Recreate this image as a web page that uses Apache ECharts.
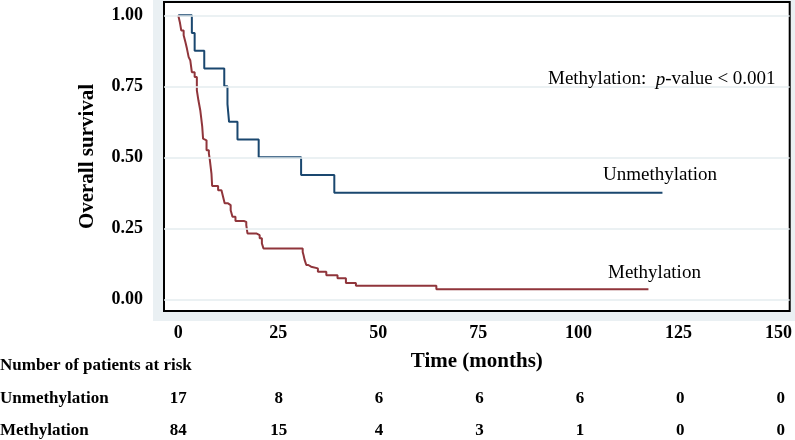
<!DOCTYPE html>
<html>
<head>
<meta charset="utf-8">
<script src="https://cdn.jsdelivr.net/npm/echarts@6/dist/echarts.min.js"></script>
<style>html,body{margin:0;padding:0;background:#fff;}#c{width:795px;height:440px;}</style>
</head>
<body>
<div id="c"></div>
<script>
// ---- data ----
var xTicks = [0, 25, 50, 75, 100, 125, 150];
var yTicks = [0, 0.25, 0.5, 0.75, 1];
var yTickLabels = ['0.00', '0.25', '0.50', '0.75', '1.00'];

var unmethTime = [0, 3.4, 4.1, 6.5, 11.5, 12.3, 12.7, 14.8, 20.1, 30.7, 39.0, 121.0];
var unmethSurv = [1.0, 0.9375, 0.875, 0.8125, 0.75, 0.6875, 0.625, 0.5625, 0.5, 0.4375, 0.375, 0.375];

var methTime = [0, 0.4, 0.75, 1.35, 1.8, 2.17, 2.6, 3.0, 3.4, 4.1, 4.65, 5.05, 5.5, 5.75, 6.0, 6.2, 6.65, 7.07, 7.65, 7.9,
  8.3, 8.47, 9.96, 10.8, 11.2, 11.6, 12.45, 13.1, 13.55, 14.3, 16.4, 17.0, 17.3, 19.5, 20.35, 20.9, 21.3, 31.1, 31.3, 31.6,
  32.0, 32.5, 33.2, 34.9, 37.0, 39.8, 41.9, 44.4, 64.5, 117.5];
var methSurv = [1.0, 0.976, 0.947, 0.930, 0.905, 0.883, 0.853, 0.842, 0.80, 0.783, 0.736, 0.70, 0.666, 0.637, 0.607, 0.566, 0.560, 0.525, 0.514, 0.49,
  0.443, 0.399, 0.384, 0.378, 0.361, 0.338, 0.332, 0.314, 0.291, 0.276, 0.273, 0.261, 0.232, 0.226, 0.215, 0.197, 0.179, 0.167, 0.156, 0.138,
  0.121, 0.115, 0.109, 0.097, 0.085, 0.074, 0.058, 0.048, 0.036, 0.036];

var riskTimes = [0, 25, 50, 75, 100, 125, 150];
var unmethRisk = [17, 8, 6, 6, 6, 0, 0];
var methRisk = [84, 15, 4, 3, 1, 0, 0];
var riskRows = ['Unmethylation', 'Methylation'];

// ---- build ----
var SERIF = "'Liberation Serif','DejaVu Serif',serif";
function zip(a, b) { return a.map(function (v, i) { return [v, b[i]]; }); }
var riskData = [];
riskTimes.forEach(function (t, i) { riskData.push([t, 1, unmethRisk[i]]); });
riskTimes.forEach(function (t, i) { riskData.push([t, 0, methRisk[i]]); });

var XMIN = -3.56, XMAX = 152.8;
var chart = echarts.init(document.getElementById('c'), null, { renderer: 'canvas' });
chart.setOption({
  animation: false,
  backgroundColor: '#fff',
  graphic: [
    { type: 'rect', z: -100, silent: true, shape: { x: 153, y: 0, width: 642, height: 321 }, style: { fill: '#eaf0f3' } },
    { type: 'text', z: 100, left: 0, top: 357, style: { text: 'Number of patients at risk', font: 'bold 17px ' + SERIF, fill: '#000' } },
    { type: 'text', z: 100, left: 0, top: 390, style: { text: riskRows[0], font: 'bold 17px ' + SERIF, fill: '#000' } },
    { type: 'text', z: 100, left: 0, top: 422, style: { text: riskRows[1], font: 'bold 17px ' + SERIF, fill: '#000' } },
    { type: 'text', z: 100, left: 548, top: 70, style: {
        text: '{a|Methylation:  }{p|p}{a|-value < 0.001}',
        rich: { a: { fontFamily: SERIF, fontSize: 19, fill: '#000' }, p: { fontFamily: SERIF, fontStyle: 'italic', fontSize: 19, fill: '#000' } } } },
    { type: 'text', z: 100, left: 603, top: 166, style: { text: 'Unmethylation', font: '19px ' + SERIF, fill: '#000' } },
    { type: 'text', z: 100, left: 608, top: 264, style: { text: 'Methylation', font: '19px ' + SERIF, fill: '#000' } }
  ],
  grid: [
    { left: 164, right: 3, top: 2, bottom: 129, show: true, backgroundColor: '#fff', borderColor: '#000', borderWidth: 2, z: 1 },
    { left: 164, right: 3, top: 399, height: 32 }
  ],
  xAxis: [
    { type: 'value', gridIndex: 0, min: XMIN, max: XMAX,
      name: 'Time (months)', nameLocation: 'middle', nameGap: 40,
      nameTextStyle: { fontFamily: SERIF, fontWeight: 'bold', fontSize: 21, color: '#000' },
      axisLine: { show: false },
      axisTick: { show: true, customValues: xTicks, length: 7, lineStyle: { color: '#333', width: 1.3 } },
      axisLabel: { show: true, customValues: xTicks, margin: 13, fontFamily: SERIF, fontWeight: 'bold', fontSize: 18, color: '#000' },
      splitLine: { show: false } },
    { type: 'value', gridIndex: 1, min: XMIN, max: XMAX, show: false }
  ],
  yAxis: [
    { type: 'value', gridIndex: 0, min: -0.041, max: 1.047,
      name: 'Overall survival', nameLocation: 'middle', nameGap: 66, nameRotate: 90,
      nameTextStyle: { fontFamily: SERIF, fontWeight: 'bold', fontSize: 21, color: '#000' },
      axisLine: { show: false },
      axisTick: { show: true, customValues: yTicks, length: 7, lineStyle: { color: '#333', width: 1.3 } },
      axisLabel: { show: true, customValues: yTicks, margin: 21, fontFamily: SERIF, fontWeight: 'bold', fontSize: 18, color: '#000',
        formatter: function (v) { var i = yTicks.indexOf(v); return i >= 0 ? yTickLabels[i] : ''; } },
      splitLine: { show: false } },
    { type: 'value', gridIndex: 1, min: 0, max: 1, show: false }
  ],
  series: [
    { type: 'line', xAxisIndex: 0, yAxisIndex: 0, data: [], z: 1, silent: true,
      markLine: { silent: true, symbol: 'none', label: { show: false }, animation: false,
        lineStyle: { color: '#e4ecef', width: 1.5, type: 'solid' },
        data: yTicks.map(function (v) { return { yAxis: v }; }) } },
    { name: 'Unmethylation', type: 'line', step: 'end', xAxisIndex: 0, yAxisIndex: 0, z: 3,
      data: zip(unmethTime, unmethSurv), showSymbol: false, symbol: 'none',
      lineStyle: { color: '#1a476f', width: 2 } },
    { name: 'Methylation', type: 'line', step: 'end', xAxisIndex: 0, yAxisIndex: 0, z: 3,
      data: zip(methTime, methSurv), showSymbol: false, symbol: 'none',
      lineStyle: { color: '#90353b', width: 2 } },
    { type: 'scatter', xAxisIndex: 1, yAxisIndex: 1, data: riskData, symbolSize: 1, silent: true,
      itemStyle: { color: '#fff', opacity: 1 },
      label: { show: true, position: 'inside', formatter: function (p) { return String(p.value[2]); },
        fontFamily: SERIF, fontWeight: 'bold', fontSize: 17, color: '#000', textBorderWidth: 0, opacity: 1 } }
  ]
});
</script>
</body>
</html>
